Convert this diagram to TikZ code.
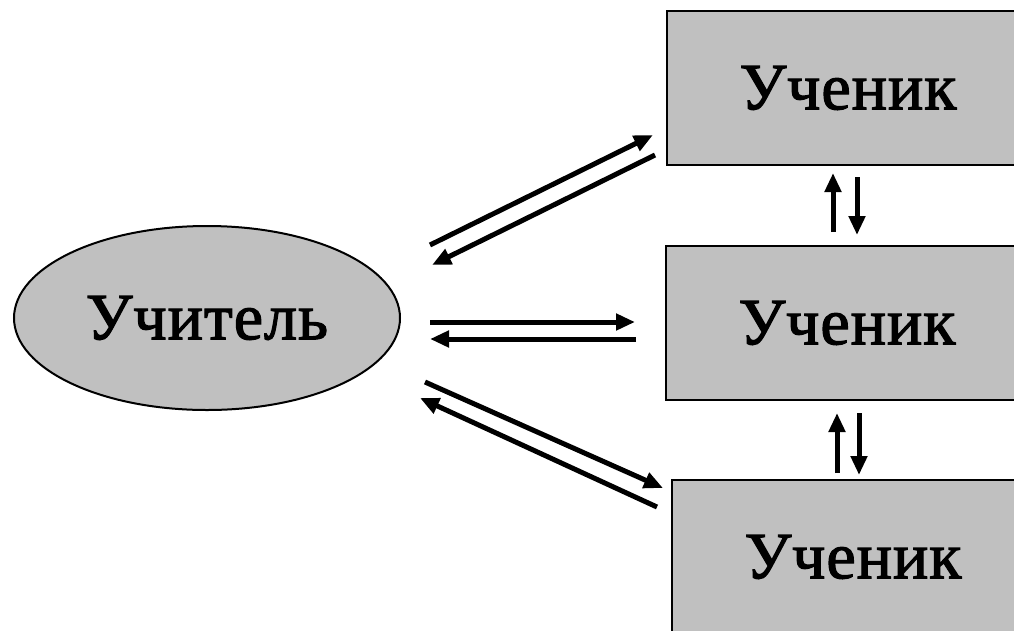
\documentclass[tikz,border=0pt]{standalone}
\usepackage{fontspec}
\setmainfont{Liberation Serif}
\newfontfamily\labelfont[FakeBold=1.8,LetterSpace=1.5]{Liberation Serif}
\usetikzlibrary{arrows.meta,shapes.geometric}
\definecolor{boxgray}{RGB}{192,192,192}
\tikzset{
  pupil/.style={draw,line width=2.5pt,fill=boxgray,rectangle,minimum width=362pt,minimum height=154pt,inner sep=0pt,font=\labelfont\fontsize{66}{66}\selectfont},
  teacher/.style={draw,line width=2pt,fill=boxgray,ellipse,minimum width=386pt,minimum height=184pt,inner sep=0pt,font=\labelfont\fontsize{66}{66}\selectfont},
  link/.style={line width=5pt,-{Triangle[length=19pt,width=16pt]}}
}
\begin{document}
\begin{tikzpicture}[x=1pt,y=-1pt]
      \useasboundingbox (0,0) rectangle (1014,630);
      \clip (0,0) rectangle (1014,630);
      \node[teacher] (t) at (207,318) {Учитель};
      \node[pupil] (s1) at (848,88) {Ученик};
      \node[pupil] (s2) at (847,323) {Ученик};
      \node[pupil] (s3) at (853,557) {Ученик};
      \coordinate (a1) at (430,245); \coordinate (b1) at (653,135);
      \coordinate (a2) at (432,265); \coordinate (b2) at (655,155);
      \coordinate (a3) at (430,322); \coordinate (b3) at (635,322);
      \coordinate (a4) at (430,339); \coordinate (b4) at (636,339);
      \coordinate (a5) at (425,382); \coordinate (b5) at (663,488);
      \coordinate (a6) at (420,398); \coordinate (b6) at (657,507);
      \coordinate (u1) at (833,232); \coordinate (v1) at (833,173);
      \coordinate (u2) at (857,177); \coordinate (v2) at (857,235);
      \coordinate (u3) at (837,473); \coordinate (v3) at (837,413);
      \coordinate (u4) at (859,413); \coordinate (v4) at (859,475);
      \begin{scope}[link]
        \draw (a1) to (b1);
        \draw (b2) to (a2);
        \draw (a3) to (b3);
        \draw (b4) to (a4);
        \draw (a5) to (b5);
        \draw (b6) to (a6);
        \draw (u1) to (v1);
        \draw (u2) to (v2);
        \draw (u3) to (v3);
        \draw (u4) to (v4);
      \end{scope}
    \end{tikzpicture}
\end{document}
